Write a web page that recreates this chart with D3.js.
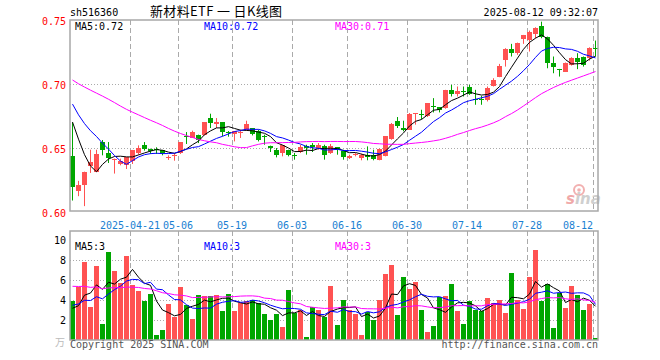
<!DOCTYPE html>
<html><head><meta charset="utf-8">
<script src="https://cdn.jsdelivr.net/npm/d3@7"></script>
<style>html,body{margin:0;padding:0;background:#fff;}svg{display:block;}</style>
</head><body><svg id="c" width="660" height="360"></svg>
<script>
// ---------- DATA ----------
const dates = ["04-07","04-08","04-09","04-10","04-11","04-14","04-15","04-16","04-17","04-18","04-21","04-22","04-23","04-24","04-25","04-28","04-29","04-30",
"05-06","05-07","05-08","05-09","05-12","05-13","05-14","05-15","05-16","05-19","05-20","05-21","05-22","05-23","05-26","05-27","05-28","05-29","05-30",
"06-03","06-04","06-05","06-06","06-09","06-10","06-11","06-12","06-13","06-16","06-17","06-18","06-19","06-20","06-23","06-24","06-25","06-26","06-27","06-30",
"07-01","07-02","07-03","07-04","07-07","07-08","07-09","07-10","07-11","07-14","07-15","07-16","07-17","07-18","07-21","07-22","07-23","07-24","07-25","07-28","07-29","07-30","07-31",
"08-01","08-04","08-05","08-06","08-07","08-08","08-11","08-12"];
const opens = [0.6437,0.6159,0.6206,0.6354,0.6313,0.6544,0.6461,0.6401,0.6372,0.6367,0.6398,0.6456,0.6523,0.6492,0.6487,0.6482,0.6419,0.6440,
0.6456,0.6589,0.6576,0.6602,0.6602,0.6732,0.6688,0.6701,0.6620,0.6607,0.6620,0.6641,0.6654,0.6628,0.6591,0.6516,0.6484,0.6458,0.6484,
0.6441,0.6466,0.6510,0.6518,0.6497,0.6510,0.6458,0.6503,0.6471,0.6419,0.6443,0.6419,0.6445,0.6445,0.6406,0.6437,0.6570,0.6711,0.6654,0.6641,
0.6766,0.6763,0.6745,0.6825,0.6818,0.6810,0.6953,0.6922,0.6942,0.6974,0.6883,0.6878,0.6875,0.6984,0.7057,0.7188,0.7271,0.7240,0.7349,0.7344,0.7391,0.7453,0.7365,
0.7167,0.7117,0.7096,0.7148,0.7201,0.7208,0.7201,0.7281];
const highs = [0.6698,0.6240,0.6312,0.6484,0.6484,0.6560,0.6544,0.6414,0.6414,0.6424,0.6482,0.6518,0.6544,0.6492,0.6503,0.6482,0.6440,0.6456,
0.6544,0.6622,0.6633,0.6602,0.6698,0.6766,0.6732,0.6701,0.6630,0.6628,0.6641,0.6711,0.6654,0.6641,0.6602,0.6516,0.6497,0.6518,0.6484,
0.6458,0.6523,0.6523,0.6536,0.6536,0.6523,0.6529,0.6503,0.6484,0.6445,0.6458,0.6453,0.6510,0.6484,0.6492,0.6589,0.6693,0.6740,0.6711,0.6771,
0.6771,0.6797,0.6849,0.6888,0.6818,0.6953,0.6992,0.6979,0.6979,0.6992,0.6953,0.6906,0.6979,0.7044,0.7156,0.7279,0.7313,0.7323,0.7383,0.7417,0.7443,0.7487,0.7370,
0.7214,0.7117,0.7167,0.7208,0.7240,0.7214,0.7286,0.7339];
const lows = [0.6086,0.6120,0.6042,0.6302,0.6313,0.6440,0.6380,0.6297,0.6362,0.6333,0.6372,0.6445,0.6477,0.6451,0.6451,0.6440,0.6404,0.6398,
0.6451,0.6529,0.6576,0.6536,0.6596,0.6654,0.6654,0.6589,0.6586,0.6549,0.6576,0.6633,0.6596,0.6549,0.6523,0.6466,0.6424,0.6432,0.6432,
0.6406,0.6458,0.6445,0.6466,0.6484,0.6406,0.6451,0.6445,0.6406,0.6411,0.6432,0.6401,0.6401,0.6401,0.6401,0.6432,0.6562,0.6654,0.6628,0.6641,
0.6680,0.6724,0.6740,0.6776,0.6776,0.6805,0.6901,0.6901,0.6901,0.6914,0.6836,0.6836,0.6862,0.6979,0.7052,0.7135,0.7214,0.7227,0.7313,0.7253,0.7357,0.7357,0.7122,
0.7083,0.7057,0.7096,0.7143,0.7115,0.7135,0.7182,0.7214];
const closes = [0.6193,0.6211,0.6312,0.6388,0.6451,0.6484,0.6419,0.6414,0.6398,0.6424,0.6482,0.6497,0.6492,0.6471,0.6482,0.6456,0.6424,0.6445,
0.6544,0.6581,0.6622,0.6563,0.6698,0.6693,0.6698,0.6622,0.6612,0.6628,0.6625,0.6688,0.6607,0.6562,0.6581,0.6497,0.6445,0.6518,0.6445,
0.6440,0.6503,0.6497,0.6503,0.6523,0.6445,0.6510,0.6484,0.6427,0.6437,0.6453,0.6445,0.6427,0.6411,0.6492,0.6589,0.6687,0.6667,0.6641,0.6766,
0.6771,0.6758,0.6849,0.6823,0.6797,0.6953,0.6922,0.6945,0.6940,0.6922,0.6880,0.6875,0.6966,0.7031,0.7141,0.7271,0.7240,0.7323,0.7380,0.7409,0.7435,0.7370,0.7167,
0.7130,0.7115,0.7167,0.7201,0.7174,0.7148,0.7279,0.7279];
const volumes = [3.87,5.27,7.77,3.27,7.37,1.63,8.83,6.87,5.70,8.37,5.53,4.93,3.87,4.63,0.53,1.03,3.63,2.27,
5.33,3.53,2.13,4.53,4.43,4.43,4.53,2.93,4.63,2.87,3.70,3.87,3.97,3.70,2.63,1.97,2.63,1.27,5.03,
2.70,2.97,0.27,3.30,2.97,2.27,5.43,1.53,3.97,3.03,2.63,0.53,2.83,1.97,4.03,6.63,7.53,2.53,6.33,5.13,
5.77,3.00,0.77,1.37,4.27,4.43,5.63,2.87,1.63,3.93,3.03,2.87,4.23,3.70,3.97,2.73,6.73,4.03,3.13,6.33,9.03,3.93,5.63,
1.23,4.70,3.23,5.43,4.53,3.03,3.63,0.23];
// closes / volumes of the 29 sessions before the window (estimated from where the MA lines start)
const warmupCloses = [0.710,0.708,0.712,0.715,0.718,0.716,0.720,0.722,0.719,0.715,0.712,0.714,0.710,0.707,0.709,0.712,0.708,0.710,0.707,0.705,
0.705,0.700,0.695,0.690,0.701,0.688,0.692,0.683,0.668];
const warmupVolumes = [5.8,7.2,6.5,5.9,7.1,6.8,5.5,6.2,6.4,6.0,5.6,6.9,6.3,5.7,7.0,6.1,5.9,6.6,5.8,7.1,
3.9,4.1,3.5,3.6,3.73,4.0,2.5,2.2,3.3];
const priceTicks = [0.75,0.70,0.65,0.60];
const priceGrid = [0.70,0.65];
const volTicks = [10,8,6,4,2];
const volGrid = [8,6,4,2];
const dateTickDays = ["04-21","05-06","05-19","06-03","06-16","06-30","07-14","07-28","08-12"];
const dateTickLabels = ["2025-04-21","05-06","05-19","06-03","06-16","06-30","07-14","07-28","08-12"];
const maPeriods = [5,10,30];
const maColors = ["#000000","#0000ff","#ff00ff"];
const priceMaLabels = ["MA5:0.72","MA10:0.72","MA30:0.71"];
const volMaLabels = ["MA5:3","MA10:3","MA30:3"];
const headerCode = "sh516360";
const headerTitle = "新材料ETF 一 日K线图";
const headerTime = "2025-08-12 09:32:07";

// ---------- DRAW ----------
const N = dates.length;
const svg = d3.select("#c");
const L = 70, R = 598, T = 20, B = 211, VT = 231, VB = 340;
const RED = "#ff5252", GREEN = "#00a600";
const mono = "'DejaVu Sans Mono', 'Liberation Mono', monospace";

const x = d3.scaleBand().domain(d3.range(N)).range([L, R]).paddingInner(1/6).paddingOuter(0);
const cx = i => Math.round(x(i)) + 2.5;
const y = d3.scaleLinear().domain([0.60, 0.75]).range([211.5, 20]);
const vy = d3.scaleLinear().domain([0, 10.9]).range([340, 231]);

function ma(series, warm, n) {
  const all = warm.concat(series);
  return series.map((_, i) => d3.mean(all.slice(i + warm.length - n + 1, i + warm.length + 1)));
}

svg.append("rect").attr("width", 660).attr("height", 360).attr("fill", "#fff");

svg.append("clipPath").attr("id", "cm").append("rect").attr("x", L).attr("y", T).attr("width", R - L).attr("height", B - T);
svg.append("clipPath").attr("id", "cv").append("rect").attr("x", L).attr("y", VT).attr("width", R - L).attr("height", VB - VT);

// grids
const gridG = svg.append("g");
gridG.selectAll(".hg").data(priceGrid).join("line")
  .attr("x1", L).attr("x2", R).attr("y1", d => Math.round(y(d)) + 0.5).attr("y2", d => Math.round(y(d)) + 0.5)
  .attr("stroke", "#aaa").attr("stroke-dasharray", "1,2");
gridG.selectAll(".vg").data(volGrid).join("line")
  .attr("x1", L).attr("x2", R).attr("y1", d => Math.round(vy(d)) + 0.5).attr("y2", d => Math.round(vy(d)) + 0.5)
  .attr("stroke", "#aaa").attr("stroke-dasharray", "1,2");
const tickIdx = dateTickDays.map(d => dates.indexOf(d));
[[T, B], [VT, VB]].forEach(([a, b]) => {
  gridG.selectAll(null).data(tickIdx).join("line")
    .attr("x1", d => Math.round(x(d)) + 0.5).attr("x2", d => Math.round(x(d)) + 0.5)
    .attr("y1", a).attr("y2", b)
    .attr("stroke", "#aaa").attr("stroke-dasharray", "5,3");
});

// watermark
const wm = svg.append("g").attr("font-family", "'DejaVu Sans', sans-serif").attr("font-weight", "bold").attr("font-style", "italic");
wm.append("circle").attr("cx", 579).attr("cy", 190).attr("r", 5).attr("fill", "none").attr("stroke", "#f2b0b0").attr("stroke-width", 2);
wm.append("circle").attr("cx", 579).attr("cy", 190).attr("r", 1.8).attr("fill", "#f2b0b0");
const wt = wm.append("text").attr("x", 566).attr("y", 204).attr("font-size", 15);
wt.append("tspan").attr("fill", "#f0a8a8").text("s");
wt.append("tspan").attr("fill", "#cfcfcf").text("ina");

// volume bars
svg.append("g").selectAll("rect").data(volumes).join("rect")
  .attr("x", (d, i) => Math.round(x(i))).attr("width", 5)
  .attr("y", d => Math.round(vy(d))).attr("height", d => VB - Math.round(vy(d)))
  .attr("fill", (d, i) => closes[i] >= opens[i] ? RED : GREEN);

// candles
const cg = svg.append("g").attr("clip-path", "url(#cm)");
const cd = d3.range(N);
cg.selectAll(".w").data(cd).join("line")
  .attr("x1", i => cx(i)).attr("x2", i => cx(i))
  .attr("y1", i => y(highs[i])).attr("y2", i => y(lows[i]))
  .attr("stroke", i => closes[i] >= opens[i] ? RED : GREEN).attr("stroke-width", 1);
cg.selectAll(".b").data(cd).join("rect")
  .attr("x", i => Math.round(x(i))).attr("width", 5)
  .attr("y", i => Math.round(y(Math.max(opens[i], closes[i]))))
  .attr("height", i => Math.max(1, Math.round(y(Math.min(opens[i], closes[i]))) - Math.round(y(Math.max(opens[i], closes[i])))))
  .attr("fill", i => closes[i] >= opens[i] ? RED : GREEN);

// MA lines
maPeriods.forEach((n, k) => {
  const pm = ma(closes, warmupCloses, n);
  cg.append("path").datum(pm)
    .attr("d", d3.line().x((d, i) => cx(i)).y(d => y(d)))
    .attr("fill", "none").attr("stroke", maColors[k]).attr("stroke-width", 1);
  const vm = ma(volumes, warmupVolumes, n);
  svg.append("path").datum(vm).attr("clip-path", "url(#cv)")
    .attr("d", d3.line().x((d, i) => cx(i)).y(d => vy(d)))
    .attr("fill", "none").attr("stroke", maColors[k]).attr("stroke-width", 1);
});

// frames
[[T, B], [VT, VB]].forEach(([a, b]) => {
  svg.append("rect").attr("x", L).attr("y", a).attr("width", R - L).attr("height", b - a)
    .attr("fill", "none").attr("stroke", "#a8a8a8").attr("stroke-width", 1.5);
});

// axis labels
const tx = svg.append("g").attr("font-family", mono).attr("font-size", 10);
tx.selectAll(".py").data(priceTicks).join("text")
  .attr("x", 66).attr("y", d => y(d) + 5).attr("text-anchor", "end").attr("fill", "#ff0000").text(d => d.toFixed(2));
tx.selectAll(".vy").data(volTicks).join("text")
  .attr("x", 66).attr("y", d => Math.max(vy(d), 231) + 4).attr("text-anchor", "end").attr("fill", "#000").text(d => d);
tx.append("text").attr("x", 55).attr("y", 346).attr("fill", "#bbb").attr("font-family", "'Noto Sans CJK SC', sans-serif").attr("font-size", 10).text("万");
tx.selectAll(".dx").data(tickIdx).join("text")
  .attr("x", (d, i) => i === tickIdx.length - 1 ? R - 5 : Math.round(x(d)))
  .attr("y", 229).attr("text-anchor", (d, i) => i === tickIdx.length - 1 ? "end" : "middle")
  .attr("fill", "#1a7fd2").text((d, i) => dateTickLabels[i]);

// MA legends
const legX = [75, 204, 335];
tx.selectAll(".pl").data(priceMaLabels).join("text")
  .attr("x", (d, i) => legX[i]).attr("y", 30).attr("fill", (d, i) => maColors[i]).text(d => d);
tx.selectAll(".vl").data(volMaLabels).join("text")
  .attr("x", (d, i) => legX[i]).attr("y", 250).attr("fill", (d, i) => maColors[i]).text(d => d);

// header
tx.append("text").attr("x", 70).attr("y", 16).attr("fill", "#000").text(headerCode);
tx.append("text").attr("x", R).attr("y", 16).attr("text-anchor", "end").attr("fill", "#000").text(headerTime);
svg.append("text").attr("x", 150).attr("y", 16).attr("font-family", "'Noto Sans CJK SC', sans-serif").attr("font-size", 13)
  .attr("textLength", 132).attr("lengthAdjust", "spacing").attr("fill", "#000").text(headerTitle);

// footer
tx.append("text").attr("x", 70).attr("y", 348).attr("fill", "#555").text("Copyright 2025 SINA.COM");
tx.append("text").attr("x", R).attr("y", 348).attr("text-anchor", "end").attr("fill", "#555").text("http://finance.sina.com.cn");
</script></body></html>
